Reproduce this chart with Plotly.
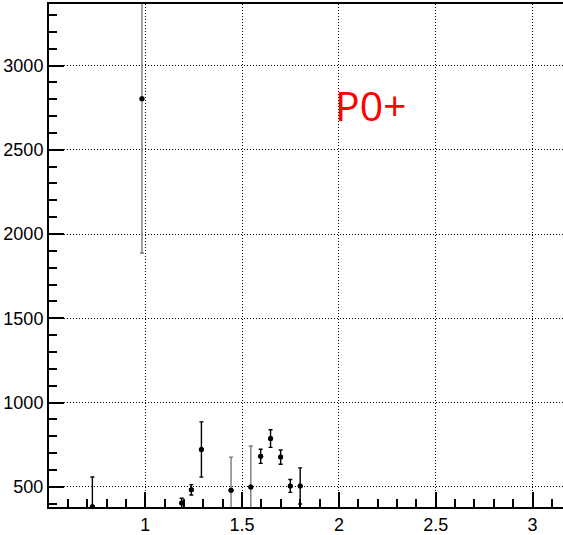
import plotly.graph_objects as go

# Measured points: position, value and symmetric uncertainty
x_dark = [0.727, 1.188, 1.238, 1.290, 1.596, 1.647, 1.699, 1.749, 1.800]
y_dark = [382, 404, 482, 721, 681, 786, 676, 505, 505]
e_dark = [176, 28, 31, 164, 42, 52, 42, 38, 107]

x_grey = [0.983, 1.443, 1.545]
y_grey = [2803, 480, 498]
e_grey = [916, 196, 244]

label_text = "P0+"

x_ticks = [1, 1.5, 2, 2.5, 3]
y_ticks = [500, 1000, 1500, 2000, 2500, 3000]

fig = go.Figure()

for xs, ys, es, col in [(x_dark, y_dark, e_dark, "black"),
                        (x_grey, y_grey, e_grey, "#7a7a7a")]:
    fig.add_trace(go.Scatter(
        x=xs, y=ys, mode="markers",
        marker=dict(color="black", size=5),
        error_y=dict(type="data", array=es, color=col, thickness=1.4, width=2),
        cliponaxis=True, showlegend=False,
    ))

# dots drawn again unclipped so points sitting on the axis stay whole
fig.add_trace(go.Scatter(
    x=x_dark + x_grey, y=y_dark + y_grey, mode="markers",
    marker=dict(color="black", size=5), cliponaxis=False, showlegend=False,
))

tick_font = dict(family="Liberation Sans Narrow, Arial Narrow, sans-serif", size=18, color="black")
grid_dash = "1px,2px"

fig.update_xaxes(
    range=[0.503, 3.157], tickvals=x_ticks, ticktext=[str(v) for v in x_ticks],
    showline=True, linecolor="black", linewidth=2, mirror=True,
    ticks="inside", ticklen=15, tickwidth=1.5, tickcolor="black",
    minor=dict(dtick=0.1, ticks="inside", ticklen=8, tickwidth=1.5, tickcolor="black", showgrid=False),
    showgrid=True, gridcolor="black", griddash=grid_dash, gridwidth=1,
    zeroline=False, tickfont=tick_font,
)
fig.update_yaxes(
    range=[380, 3365], tickvals=y_ticks, ticktext=[str(v) for v in y_ticks],
    showline=True, linecolor="black", linewidth=2, mirror=False,
    ticks="inside", ticklen=15, tickwidth=1.5, tickcolor="black",
    minor=dict(dtick=100, ticks="inside", ticklen=8, tickwidth=1.5, tickcolor="black", showgrid=False),
    showgrid=True, gridcolor="black", griddash=grid_dash, gridwidth=1,
    zeroline=False, tickfont=tick_font,
)

# place the label in pixel terms relative to the plotting area
plot_w = 563 - 49
plot_h = 535 - 4 - 26
fig.add_annotation(
    x=(371 - 49) / plot_w, y=1 - (105 - 4) / plot_h,
    xref="paper", yref="paper", xanchor="center", yanchor="middle",
    text=label_text, showarrow=False,
    font=dict(family="Open Sans, Noto Sans, sans-serif", size=41, color="red"),
)

fig.update_layout(
    width=563, height=535,
    margin=dict(l=49, r=0, t=4, b=26),
    paper_bgcolor="white", plot_bgcolor="white",
)

fig.write_html("out.html")
